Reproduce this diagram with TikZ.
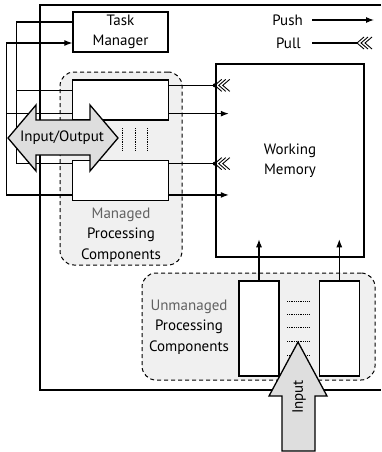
\documentclass[tikz,border=0pt]{standalone}
\usepackage{fontspec}
\setmainfont{PT Sans}
\usetikzlibrary{arrows.meta, positioning, calc}

\tikzset{
    pullhead/.pic={
        \foreach \d in {0,4,8}
            \draw[line width=0.9pt] (\d+7,-6) -- (\d,0) -- (\d+7,6);
    }
}

\begin{document}
\begin{tikzpicture}[
        x=1pt, y=-1pt,
        font=\fontsize{15}{20.5}\selectfont,
        box/.style={draw, line width=1.3pt, minimum width=95pt, minimum height=40pt, align=center, inner sep=0pt},
        comp/.style={draw, line width=1.3pt, fill=white, minimum width=96pt, minimum height=40pt, inner sep=0pt},
        ucomp/.style={draw, line width=1.3pt, fill=white, minimum width=40pt, minimum height=95pt, inner sep=0pt},
        group/.style={draw, dash pattern=on 4pt off 3pt, line width=1pt, rounded corners=14pt, fill=black!6, inner sep=0pt},
        fat/.style={draw, line width=1.3pt, fill=black!13, line join=miter},
        push/.style={-{Latex[length=8pt,width=6pt]}, line width=1.1pt},
        link/.style={line width=1.1pt},
        dots/.style={line width=0.9pt, dash pattern=on 0.8pt off 1pt},
        dim/.style={text=black!62}
    ]
    \useasboundingbox (0,0) rectangle (381,452);

    % groups
    \node[group, minimum width=122pt, minimum height=193pt] (mpc) at (121,168.5) {};
    \node[group, minimum width=233pt, minimum height=107pt] (upc) at (258.5,326.5) {};
    \node[align=center] (mpclbl) at (121,235) {\textcolor{black!62}{Managed}\\Processing\\Components};
    \node[align=center] (upclbl) at (189,327) {\textcolor{black!62}{Unmanaged}\\Processing\\Components};

    % frame
    \draw[line width=2.5pt] (381,5) -- (40,5) -- (40,390) -- (381,390);

    % boxes
    \node[box, fill=white] (tm) at (120.5,32) {Task\\Manager};
    \node[comp] (c1) at (120.5,100) {};
    \node[comp, below=39pt of c1] (c2) {};
    \node[box, line width=2.5pt, minimum width=148pt, minimum height=193pt] (wm) at (290,160.5) {Working\\Memory};
    \node[ucomp] (u1) at (259,328.5) {};
    \node[ucomp, right=39pt of u1] (u2) {};

    % legend
    \node[anchor=east, inner sep=0pt] (pushlbl) at (303,20) {Push};
    \node[anchor=east, inner sep=0pt] (pulllbl) at (301,43) {Pull};
    \coordinate (pushend) at (374,20);
    \coordinate (pullend) at (357,43);
    \draw[push] ([xshift=9pt]pushlbl.east) -- (pushend);
    \draw[link] ([xshift=11pt]pulllbl.east) -- (pullend);
    \pic at (pullend) {pullhead};

    % task manager buses
    \coordinate (c1in) at ([yshift=-11pt]c1.north west);
    \coordinate (c1fb) at ([yshift=7pt]c1.south west);
    \coordinate (c2in) at ([yshift=-4pt]c2.north west);
    \coordinate (c2fb) at ([yshift=6pt]c2.south west);
    \draw[link] ([yshift=10pt]tm.west) -| ([xshift=-55pt]c2in) -- (c2in);
    \draw[link] ([xshift=-55pt]c1in) -- (c1in);
    \draw[push] (c2fb) -- ([xshift=-65pt]c2fb) |- ([yshift=-11pt]tm.west);
    \draw[link] (c1fb) -- ([xshift=-65pt]c1fb);

    % to working memory
    \coordinate (c1pl) at ([yshift=-6pt]c1.north east);
    \coordinate (c1ps) at ([yshift=7pt]c1.south east);
    \coordinate (c2pl) at ([yshift=-4pt]c2.north east);
    \coordinate (c2ps) at ([yshift=6pt]c2.south east);
    \foreach \p in {c1pl, c2pl} {
        \draw[link] (\p) -- (wm.west |- \p);
        \fill (wm.west |- \p) circle (2pt);
        \pic at (wm.west |- \p) {pullhead};
    }
    \foreach \p in {c1ps, c2ps}
        \draw[push] (\p) -- ($(wm.west |- \p)+(14,0)$);
    \draw[push] (u1.north) -- ($(u1.north |- wm.south)+(0,-19)$);
    \draw[push] (u2.north) -- ($(u2.north |- wm.south)+(0,-19)$);

    % dotted fill-ins
    \foreach \x in {122,135,147}
        \draw[dots] (\x,128) -- (\x,150);
    \foreach \y in {301,314,327,341,355}
        \draw[dots] (287,\y) -- (310,\y);

    % big arrows
    \draw[fat] (8,138) -- (36,105) -- (36,120) -- (90,120) -- (90,105) -- (118,138)
        -- (90,171) -- (90,155) -- (36,155) -- (36,171) -- cycle;
    \node (iolbl) at (62,138) {Input/Output};
    \draw[fat] (298,342) -- (327,396) -- (315,396) -- (315,451) -- (282,451) -- (282,396)
        -- (269,396) -- cycle;
    \node[rotate=90] (inlbl) at (299,397) {Input};
\end{tikzpicture}
\end{document}
